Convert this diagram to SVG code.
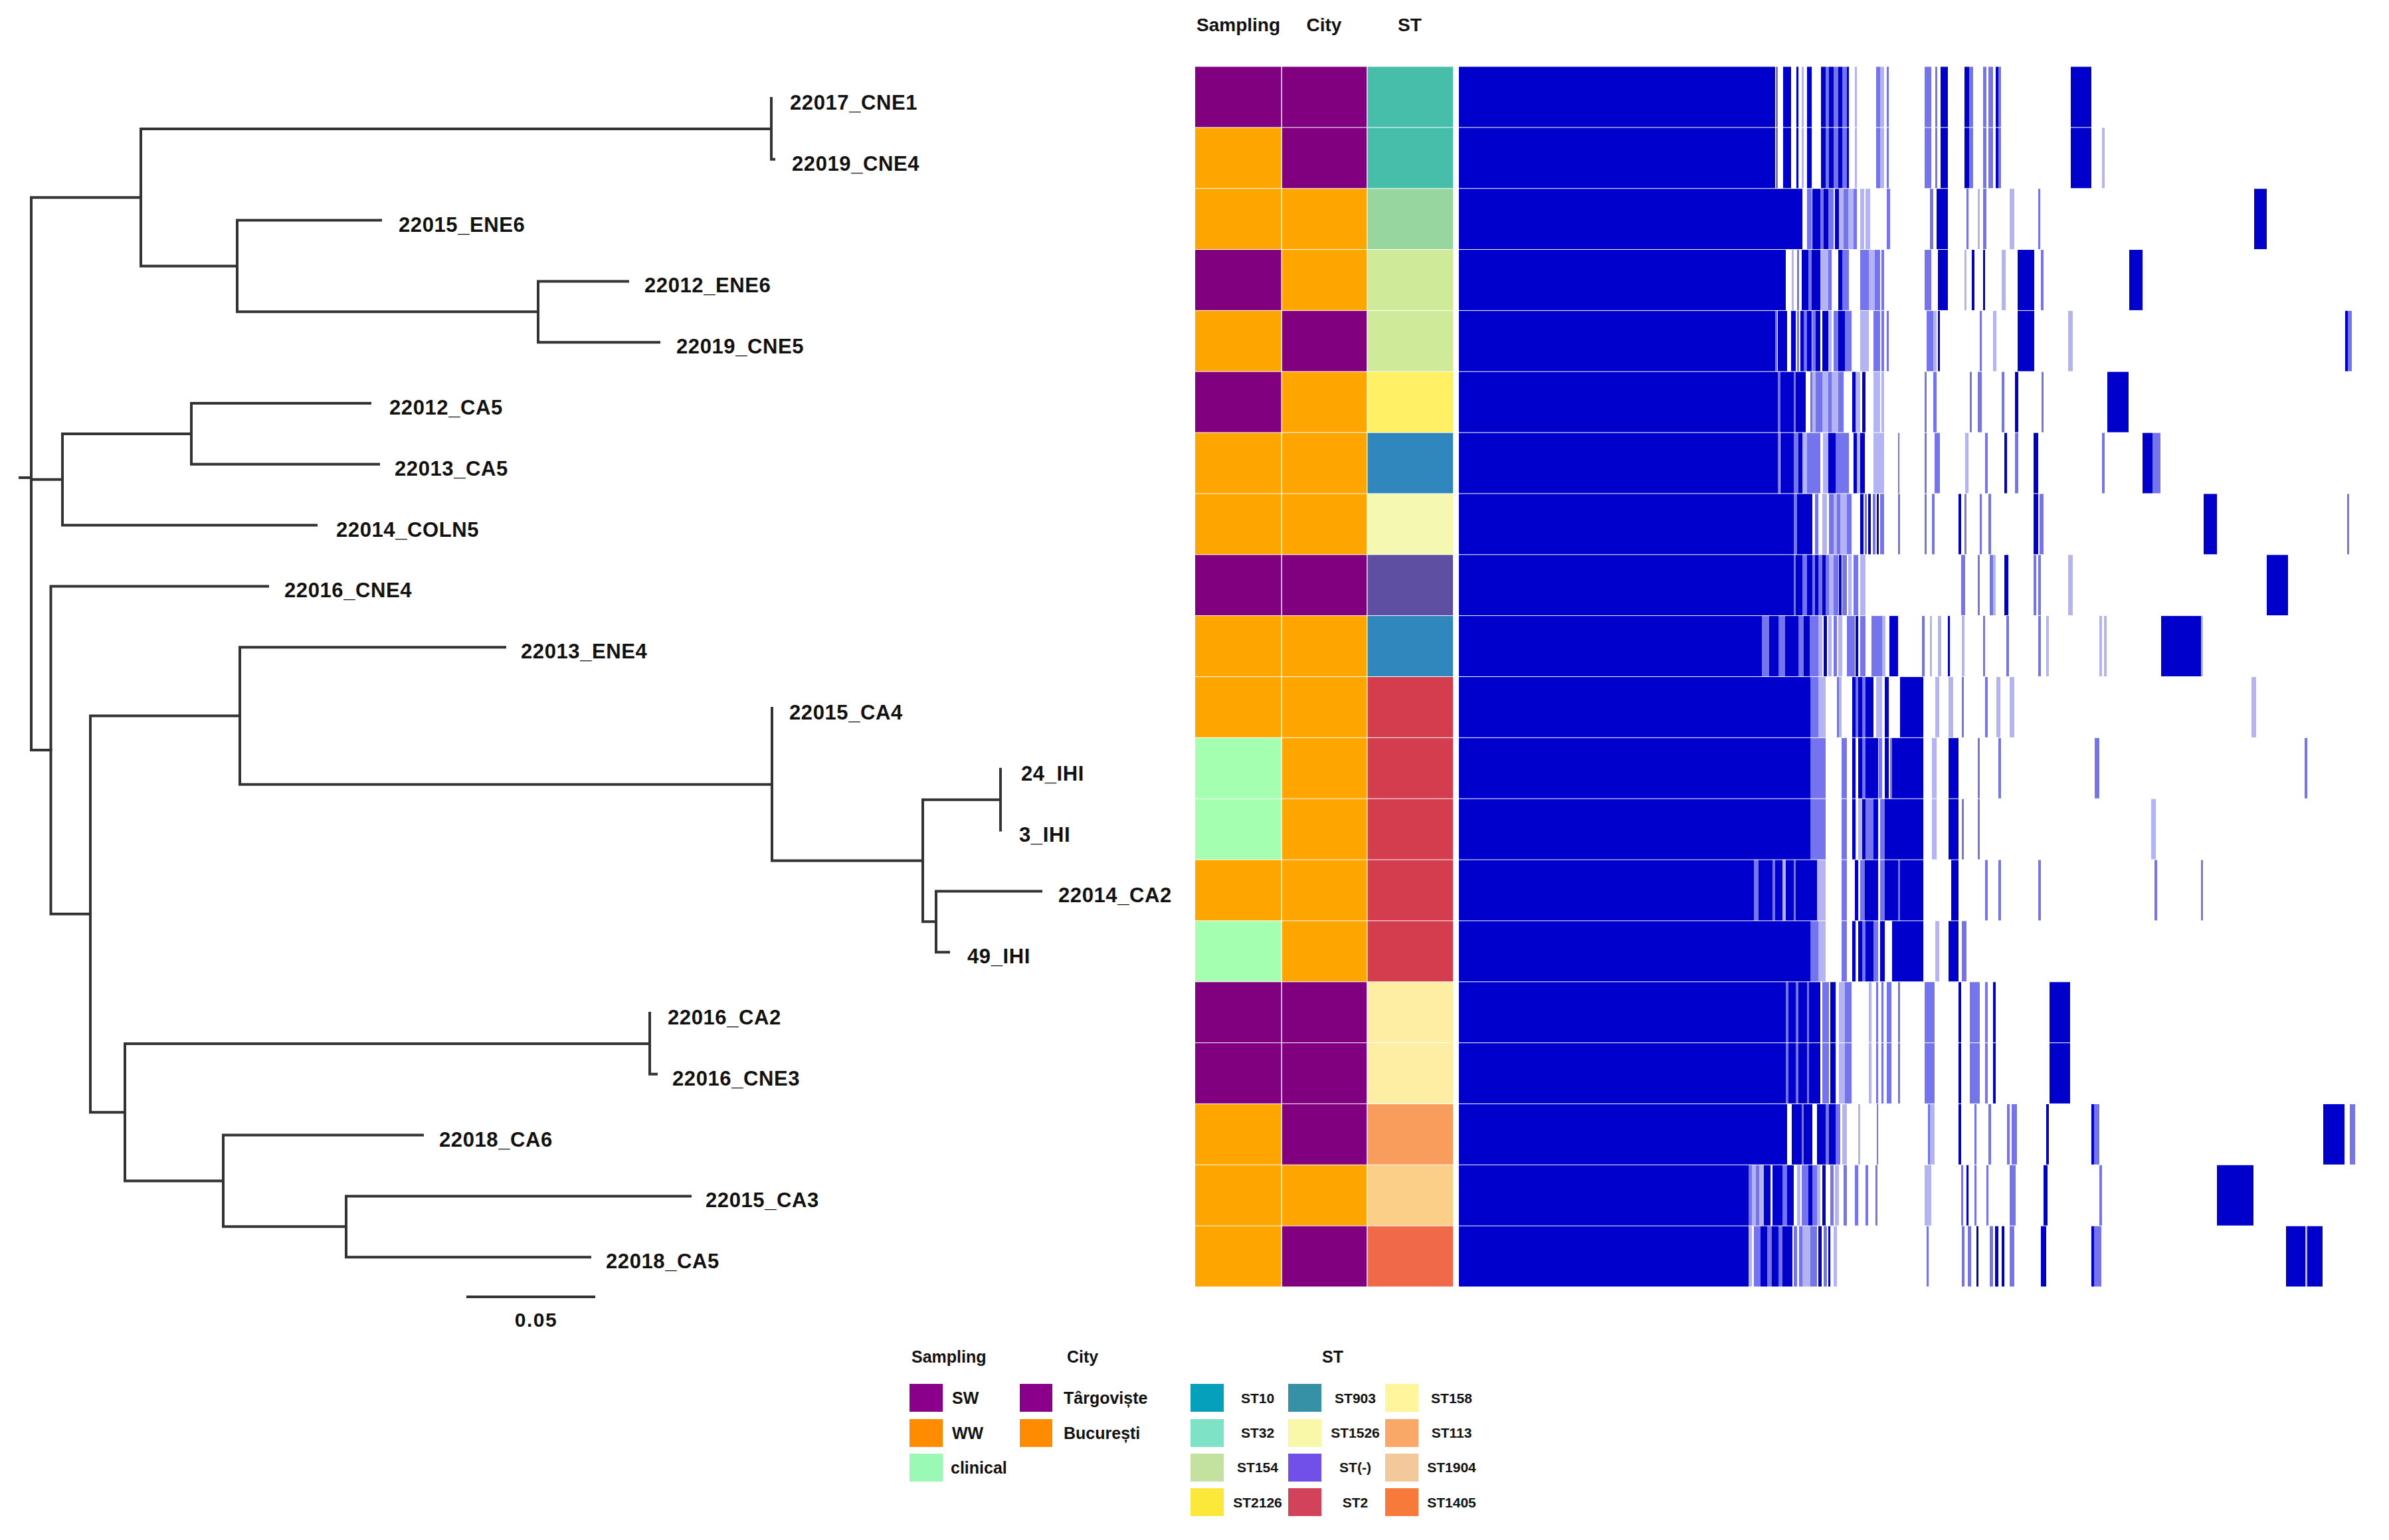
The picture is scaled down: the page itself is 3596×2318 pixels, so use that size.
<svg xmlns="http://www.w3.org/2000/svg" xmlns:xlink="http://www.w3.org/1999/xlink" width="3596" height="2318" viewBox="0 0 3596 2318">
<style>
text{font-family:"Liberation Sans",Arial,sans-serif;font-weight:bold;fill:#111}
.tip{font-size:31px;letter-spacing:0.6px}
.hdr{font-size:28px;text-anchor:middle}
.lt{font-size:25px}
.st{font-size:21px;text-anchor:middle}
.edge{fill:none;stroke:#333;stroke-width:4;stroke-linecap:square}
.d{fill:#0000CD}.m{fill:#7474EE}.l{fill:#B4B4F4}
.pu{fill:#800080}.or{fill:#FFA500}.cl{fill:#A4FFB0}
</style>
<defs>
<g id="r01">
<rect class="d" x="2196" width="476" height="90.85"/><rect class="m" x="2673" width="3" height="90.85"/><rect class="d" x="2684" width="12" height="90.85"/><rect class="d" x="2704" width="3" height="90.85"/><rect class="l" x="2712" width="3" height="90.85"/><rect class="d" x="2720" width="7" height="90.85"/><rect class="d" x="2741" width="7" height="90.85"/><rect class="m" x="2748" width="5" height="90.85"/><rect class="d" x="2753" width="7" height="90.85"/><rect class="m" x="2760" width="7" height="90.85"/><rect class="d" x="2767" width="6" height="90.85"/><rect class="m" x="2773" width="7" height="90.85"/><rect class="d" x="2780" width="3" height="90.85"/><rect class="l" x="2792" width="3" height="90.85"/><rect class="m" x="2824" width="6" height="90.85"/><rect class="l" x="2830" width="6" height="90.85"/><rect class="m" x="2840" width="3" height="90.85"/><rect class="m" x="2897" width="10" height="90.85"/><rect class="m" x="2913" width="3" height="90.85"/><rect class="d" x="2921" width="11" height="90.85"/><rect class="d" x="2957" width="7" height="90.85"/><rect class="m" x="2964" width="6" height="90.85"/><rect class="m" x="2985" width="5" height="90.85"/><rect class="m" x="2993" width="7" height="90.85"/><rect class="d" x="3004" width="4" height="90.85"/><rect class="m" x="3008" width="4" height="90.85"/><rect class="d" x="3117" width="31" height="90.85"/>
</g>
<g id="r2">
<rect class="d" x="2196" width="517" height="90.85"/><rect class="m" x="2720" width="7" height="90.85"/><rect class="d" x="2728" width="12" height="90.85"/><rect class="m" x="2740" width="5" height="90.85"/><rect class="d" x="2745" width="7" height="90.85"/><rect class="m" x="2752" width="8" height="90.85"/><rect class="d" x="2762" width="6" height="90.85"/><rect class="l" x="2768" width="7" height="90.85"/><rect class="m" x="2775" width="7" height="90.85"/><rect class="l" x="2782" width="8" height="90.85"/><rect class="m" x="2790" width="5" height="90.85"/><rect class="l" x="2800" width="6" height="90.85"/><rect class="l" x="2808" width="7" height="90.85"/><rect class="m" x="2840" width="5" height="90.85"/><rect class="m" x="2905" width="5" height="90.85"/><rect class="d" x="2915" width="17" height="90.85"/><rect class="m" x="2960" width="3" height="90.85"/><rect class="l" x="2977" width="3" height="90.85"/><rect class="m" x="2985" width="5" height="90.85"/><rect class="l" x="3025" width="7" height="90.85"/><rect class="m" x="3068" width="3" height="90.85"/><rect class="d" x="3393" width="19" height="90.85"/>
</g>
<g id="r3">
<rect class="d" x="2196" width="492" height="90.85"/><rect class="l" x="2697" width="3" height="90.85"/><rect class="m" x="2705" width="3" height="90.85"/><rect class="d" x="2712" width="10" height="90.85"/><rect class="m" x="2722" width="5" height="90.85"/><rect class="d" x="2727" width="13" height="90.85"/><rect class="l" x="2740" width="12" height="90.85"/><rect class="m" x="2752" width="5" height="90.85"/><rect class="d" x="2767" width="6" height="90.85"/><rect class="m" x="2773" width="10" height="90.85"/><rect class="m" x="2800" width="13" height="90.85"/><rect class="l" x="2813" width="9" height="90.85"/><rect class="m" x="2822" width="8" height="90.85"/><rect class="m" x="2832" width="4" height="90.85"/><rect class="m" x="2897" width="10" height="90.85"/><rect class="d" x="2917" width="15" height="90.85"/><rect class="l" x="2957" width="3" height="90.85"/><rect class="d" x="2968" width="4" height="90.85"/><rect class="d" x="2985" width="3" height="90.85"/><rect class="l" x="3013" width="6" height="90.85"/><rect class="d" x="3037" width="25" height="90.85"/><rect class="m" x="3072" width="4" height="90.85"/><rect class="d" x="3205" width="20" height="90.85"/>
</g>
<g id="r4">
<rect class="d" x="2196" width="476" height="90.85"/><rect class="m" x="2672" width="3" height="90.85"/><rect class="d" x="2676" width="14" height="90.85"/><rect class="d" x="2696" width="7" height="90.85"/><rect class="m" x="2705" width="3" height="90.85"/><rect class="d" x="2710" width="5" height="90.85"/><rect class="m" x="2715" width="5" height="90.85"/><rect class="d" x="2720" width="7" height="90.85"/><rect class="m" x="2728" width="5" height="90.85"/><rect class="d" x="2733" width="7" height="90.85"/><rect class="d" x="2743" width="9" height="90.85"/><rect class="l" x="2752" width="5" height="90.85"/><rect class="m" x="2760" width="7" height="90.85"/><rect class="d" x="2767" width="10" height="90.85"/><rect class="m" x="2777" width="10" height="90.85"/><rect class="l" x="2800" width="13" height="90.85"/><rect class="m" x="2820" width="10" height="90.85"/><rect class="m" x="2832" width="4" height="90.85"/><rect class="m" x="2840" width="3" height="90.85"/><rect class="m" x="2900" width="10" height="90.85"/><rect class="l" x="2910" width="5" height="90.85"/><rect class="d" x="2917" width="3" height="90.85"/><rect class="m" x="2980" width="3" height="90.85"/><rect class="l" x="3000" width="5" height="90.85"/><rect class="d" x="3037" width="25" height="90.85"/><rect class="l" x="3113" width="7" height="90.85"/><rect class="d" x="3530" width="4" height="90.85"/><rect class="m" x="3534" width="6" height="90.85"/>
</g>
<g id="r5">
<rect class="d" x="2196" width="480" height="90.85"/><rect class="m" x="2676" width="4" height="90.85"/><rect class="d" x="2680" width="20" height="90.85"/><rect class="m" x="2700" width="3" height="90.85"/><rect class="d" x="2703" width="15" height="90.85"/><rect class="m" x="2725" width="3" height="90.85"/><rect class="l" x="2728" width="5" height="90.85"/><rect class="m" x="2733" width="10" height="90.85"/><rect class="l" x="2743" width="9" height="90.85"/><rect class="m" x="2752" width="5" height="90.85"/><rect class="l" x="2757" width="10" height="90.85"/><rect class="m" x="2767" width="8" height="90.85"/><rect class="d" x="2788" width="5" height="90.85"/><rect class="l" x="2793" width="7" height="90.85"/><rect class="d" x="2803" width="5" height="90.85"/><rect class="l" x="2820" width="10" height="90.85"/><rect class="l" x="2832" width="4" height="90.85"/><rect class="m" x="2897" width="3" height="90.85"/><rect class="m" x="2910" width="5" height="90.85"/><rect class="m" x="2965" width="3" height="90.85"/><rect class="m" x="2977" width="6" height="90.85"/><rect class="m" x="3013" width="4" height="90.85"/><rect class="d" x="3033" width="5" height="90.85"/><rect class="m" x="3073" width="3" height="90.85"/><rect class="d" x="3172" width="32" height="90.85"/>
</g>
<g id="r6">
<rect class="d" x="2196" width="480" height="90.85"/><rect class="m" x="2676" width="3" height="90.85"/><rect class="d" x="2680" width="20" height="90.85"/><rect class="m" x="2700" width="7" height="90.85"/><rect class="d" x="2707" width="6" height="90.85"/><rect class="l" x="2713" width="7" height="90.85"/><rect class="m" x="2720" width="20" height="90.85"/><rect class="l" x="2744" width="8" height="90.85"/><rect class="d" x="2752" width="11" height="90.85"/><rect class="m" x="2763" width="20" height="90.85"/><rect class="d" x="2790" width="5" height="90.85"/><rect class="l" x="2795" width="5" height="90.85"/><rect class="d" x="2800" width="7" height="90.85"/><rect class="l" x="2820" width="16" height="90.85"/><rect class="m" x="2857" width="2" height="90.85"/><rect class="m" x="2897" width="3" height="90.85"/><rect class="m" x="2912" width="8" height="90.85"/><rect class="l" x="2958" width="5" height="90.85"/><rect class="m" x="2988" width="4" height="90.85"/><rect class="d" x="3017" width="4" height="90.85"/><rect class="m" x="3033" width="5" height="90.85"/><rect class="d" x="3061" width="7" height="90.85"/><rect class="m" x="3164" width="4" height="90.85"/><rect class="d" x="3225" width="15" height="90.85"/><rect class="m" x="3240" width="12" height="90.85"/>
</g>
<g id="r7">
<rect class="d" x="2196" width="504" height="90.85"/><rect class="m" x="2700" width="5" height="90.85"/><rect class="d" x="2705" width="23" height="90.85"/><rect class="m" x="2732" width="5" height="90.85"/><rect class="l" x="2743" width="7" height="90.85"/><rect class="m" x="2753" width="7" height="90.85"/><rect class="l" x="2760" width="5" height="90.85"/><rect class="m" x="2765" width="5" height="90.85"/><rect class="l" x="2770" width="10" height="90.85"/><rect class="m" x="2780" width="7" height="90.85"/><rect class="d" x="2800" width="5" height="90.85"/><rect class="m" x="2807" width="3" height="90.85"/><rect class="d" x="2812" width="4" height="90.85"/><rect class="m" x="2819" width="4" height="90.85"/><rect class="d" x="2825" width="3" height="90.85"/><rect class="m" x="2830" width="6" height="90.85"/><rect class="m" x="2857" width="3" height="90.85"/><rect class="m" x="2897" width="3" height="90.85"/><rect class="m" x="2908" width="4" height="90.85"/><rect class="d" x="2948" width="4" height="90.85"/><rect class="m" x="2957" width="3" height="90.85"/><rect class="m" x="2980" width="3" height="90.85"/><rect class="m" x="2993" width="4" height="90.85"/><rect class="d" x="3061" width="7" height="90.85"/><rect class="m" x="3070" width="6" height="90.85"/><rect class="d" x="3317" width="20" height="90.85"/><rect class="m" x="3533" width="3" height="90.85"/>
</g>
<g id="r8">
<rect class="d" x="2196" width="504" height="90.85"/><rect class="m" x="2700" width="3" height="90.85"/><rect class="d" x="2703" width="10" height="90.85"/><rect class="m" x="2713" width="7" height="90.85"/><rect class="d" x="2720" width="8" height="90.85"/><rect class="m" x="2728" width="4" height="90.85"/><rect class="d" x="2732" width="5" height="90.85"/><rect class="m" x="2737" width="6" height="90.85"/><rect class="d" x="2743" width="5" height="90.85"/><rect class="m" x="2748" width="5" height="90.85"/><rect class="l" x="2753" width="7" height="90.85"/><rect class="m" x="2760" width="7" height="90.85"/><rect class="d" x="2768" width="4" height="90.85"/><rect class="m" x="2773" width="7" height="90.85"/><rect class="l" x="2782" width="5" height="90.85"/><rect class="m" x="2790" width="7" height="90.85"/><rect class="l" x="2800" width="8" height="90.85"/><rect class="m" x="2952" width="6" height="90.85"/><rect class="m" x="2977" width="3" height="90.85"/><rect class="m" x="2995" width="5" height="90.85"/><rect class="l" x="3000" width="4" height="90.85"/><rect class="d" x="3017" width="6" height="90.85"/><rect class="m" x="3061" width="4" height="90.85"/><rect class="m" x="3068" width="4" height="90.85"/><rect class="l" x="3113" width="7" height="90.85"/><rect class="d" x="3412" width="32" height="90.85"/>
</g>
<g id="r9">
<rect class="d" x="2196" width="456" height="90.85"/><rect class="m" x="2652" width="11" height="90.85"/><rect class="d" x="2663" width="14" height="90.85"/><rect class="m" x="2677" width="10" height="90.85"/><rect class="d" x="2687" width="20" height="90.85"/><rect class="m" x="2707" width="8" height="90.85"/><rect class="d" x="2715" width="9" height="90.85"/><rect class="m" x="2724" width="13" height="90.85"/><rect class="l" x="2737" width="6" height="90.85"/><rect class="d" x="2745" width="5" height="90.85"/><rect class="l" x="2752" width="5" height="90.85"/><rect class="m" x="2760" width="5" height="90.85"/><rect class="l" x="2767" width="6" height="90.85"/><rect class="m" x="2780" width="12" height="90.85"/><rect class="d" x="2793" width="4" height="90.85"/><rect class="m" x="2800" width="8" height="90.85"/><rect class="m" x="2817" width="16" height="90.85"/><rect class="l" x="2833" width="5" height="90.85"/><rect class="d" x="2844" width="13" height="90.85"/><rect class="m" x="2893" width="4" height="90.85"/><rect class="l" x="2905" width="3" height="90.85"/><rect class="l" x="2917" width="5" height="90.85"/><rect class="d" x="2932" width="3" height="90.85"/><rect class="l" x="2953" width="4" height="90.85"/><rect class="m" x="2985" width="3" height="90.85"/><rect class="m" x="3020" width="4" height="90.85"/><rect class="m" x="3068" width="4" height="90.85"/><rect class="l" x="3080" width="4" height="90.85"/><rect class="l" x="3160" width="4" height="90.85"/><rect class="l" x="3167" width="4" height="90.85"/><rect class="d" x="3253" width="60" height="90.85"/><rect class="l" x="3313" width="3" height="90.85"/>
</g>
<g id="r10">
<rect class="d" x="2196" width="529" height="90.85"/><rect class="m" x="2725" width="12" height="90.85"/><rect class="l" x="2737" width="11" height="90.85"/><rect class="m" x="2765" width="3" height="90.85"/><rect class="l" x="2768" width="4" height="90.85"/><rect class="d" x="2788" width="5" height="90.85"/><rect class="m" x="2793" width="4" height="90.85"/><rect class="d" x="2797" width="6" height="90.85"/><rect class="m" x="2803" width="5" height="90.85"/><rect class="d" x="2808" width="12" height="90.85"/><rect class="l" x="2824" width="9" height="90.85"/><rect class="d" x="2837" width="6" height="90.85"/><rect class="d" x="2860" width="35" height="90.85"/><rect class="l" x="2913" width="6" height="90.85"/><rect class="l" x="2933" width="7" height="90.85"/><rect class="m" x="2953" width="3" height="90.85"/><rect class="m" x="2988" width="4" height="90.85"/><rect class="l" x="3005" width="6" height="90.85"/><rect class="l" x="3025" width="7" height="90.85"/><rect class="l" x="3389" width="7" height="90.85"/>
</g>
<g id="r11">
<rect class="d" x="2196" width="529" height="90.85"/><rect class="m" x="2725" width="23" height="90.85"/><rect class="m" x="2772" width="8" height="90.85"/><rect class="d" x="2788" width="5" height="90.85"/><rect class="d" x="2797" width="6" height="90.85"/><rect class="m" x="2803" width="5" height="90.85"/><rect class="d" x="2808" width="19" height="90.85"/><rect class="m" x="2828" width="5" height="90.85"/><rect class="d" x="2837" width="6" height="90.85"/><rect class="m" x="2845" width="3" height="90.85"/><rect class="d" x="2848" width="47" height="90.85"/><rect class="l" x="2908" width="7" height="90.85"/><rect class="d" x="2933" width="15" height="90.85"/><rect class="m" x="2977" width="3" height="90.85"/><rect class="m" x="3008" width="4" height="90.85"/><rect class="m" x="3153" width="7" height="90.85"/><rect class="m" x="3469" width="4" height="90.85"/>
</g>
<g id="r12">
<rect class="d" x="2196" width="529" height="90.85"/><rect class="m" x="2725" width="23" height="90.85"/><rect class="m" x="2772" width="8" height="90.85"/><rect class="d" x="2788" width="5" height="90.85"/><rect class="l" x="2797" width="6" height="90.85"/><rect class="d" x="2803" width="5" height="90.85"/><rect class="m" x="2808" width="12" height="90.85"/><rect class="d" x="2820" width="7" height="90.85"/><rect class="m" x="2830" width="7" height="90.85"/><rect class="d" x="2837" width="58" height="90.85"/><rect class="l" x="2908" width="7" height="90.85"/><rect class="d" x="2933" width="15" height="90.85"/><rect class="m" x="2953" width="3" height="90.85"/><rect class="m" x="2977" width="3" height="90.85"/><rect class="l" x="3238" width="7" height="90.85"/>
</g>
<g id="r13">
<rect class="d" x="2196" width="444" height="90.85"/><rect class="m" x="2640" width="7" height="90.85"/><rect class="d" x="2647" width="21" height="90.85"/><rect class="m" x="2668" width="4" height="90.85"/><rect class="d" x="2672" width="11" height="90.85"/><rect class="l" x="2683" width="5" height="90.85"/><rect class="d" x="2688" width="12" height="90.85"/><rect class="m" x="2700" width="3" height="90.85"/><rect class="d" x="2703" width="32" height="90.85"/><rect class="l" x="2735" width="13" height="90.85"/><rect class="m" x="2772" width="8" height="90.85"/><rect class="d" x="2792" width="5" height="90.85"/><rect class="m" x="2800" width="7" height="90.85"/><rect class="d" x="2807" width="20" height="90.85"/><rect class="m" x="2830" width="7" height="90.85"/><rect class="d" x="2837" width="20" height="90.85"/><rect class="m" x="2857" width="3" height="90.85"/><rect class="d" x="2860" width="35" height="90.85"/><rect class="d" x="2937" width="11" height="90.85"/><rect class="m" x="2988" width="4" height="90.85"/><rect class="m" x="3008" width="4" height="90.85"/><rect class="m" x="3068" width="4" height="90.85"/><rect class="m" x="3243" width="4" height="90.85"/><rect class="m" x="3313" width="3" height="90.85"/>
</g>
<g id="r14">
<rect class="d" x="2196" width="529" height="90.85"/><rect class="m" x="2725" width="12" height="90.85"/><rect class="l" x="2737" width="11" height="90.85"/><rect class="m" x="2772" width="8" height="90.85"/><rect class="d" x="2788" width="5" height="90.85"/><rect class="d" x="2797" width="6" height="90.85"/><rect class="m" x="2803" width="5" height="90.85"/><rect class="d" x="2808" width="12" height="90.85"/><rect class="m" x="2820" width="7" height="90.85"/><rect class="d" x="2830" width="7" height="90.85"/><rect class="d" x="2848" width="47" height="90.85"/><rect class="l" x="2913" width="6" height="90.85"/><rect class="d" x="2933" width="15" height="90.85"/><rect class="m" x="2953" width="7" height="90.85"/>
</g>
<g id="r1516">
<rect class="d" x="2196" width="492" height="90.85"/><rect class="m" x="2688" width="4" height="90.85"/><rect class="d" x="2692" width="11" height="90.85"/><rect class="m" x="2703" width="4" height="90.85"/><rect class="d" x="2707" width="13" height="90.85"/><rect class="m" x="2720" width="3" height="90.85"/><rect class="d" x="2723" width="17" height="90.85"/><rect class="m" x="2743" width="10" height="90.85"/><rect class="d" x="2755" width="8" height="90.85"/><rect class="l" x="2768" width="9" height="90.85"/><rect class="m" x="2777" width="10" height="90.85"/><rect class="l" x="2813" width="4" height="90.85"/><rect class="m" x="2824" width="3" height="90.85"/><rect class="m" x="2832" width="3" height="90.85"/><rect class="m" x="2840" width="7" height="90.85"/><rect class="m" x="2857" width="3" height="90.85"/><rect class="m" x="2897" width="15" height="90.85"/><rect class="d" x="2948" width="4" height="90.85"/><rect class="m" x="2965" width="15" height="90.85"/><rect class="m" x="2988" width="4" height="90.85"/><rect class="d" x="3000" width="4" height="90.85"/><rect class="d" x="3085" width="31" height="90.85"/>
</g>
<g id="r17">
<rect class="d" x="2196" width="494" height="90.85"/><rect class="d" x="2697" width="15" height="90.85"/><rect class="m" x="2712" width="3" height="90.85"/><rect class="d" x="2715" width="13" height="90.85"/><rect class="d" x="2735" width="13" height="90.85"/><rect class="m" x="2748" width="5" height="90.85"/><rect class="d" x="2753" width="10" height="90.85"/><rect class="m" x="2763" width="7" height="90.85"/><rect class="l" x="2773" width="7" height="90.85"/><rect class="l" x="2797" width="3" height="90.85"/><rect class="m" x="2825" width="2" height="90.85"/><rect class="m" x="2902" width="3" height="90.85"/><rect class="l" x="2905" width="7" height="90.85"/><rect class="d" x="2948" width="4" height="90.85"/><rect class="m" x="2972" width="3" height="90.85"/><rect class="m" x="2993" width="4" height="90.85"/><rect class="m" x="3021" width="4" height="90.85"/><rect class="m" x="3028" width="8" height="90.85"/><rect class="d" x="3080" width="4" height="90.85"/><rect class="d" x="3148" width="4" height="90.85"/><rect class="m" x="3152" width="8" height="90.85"/><rect class="d" x="3497" width="32" height="90.85"/><rect class="m" x="3537" width="8" height="90.85"/>
</g>
<g id="r18">
<rect class="d" x="2196" width="436" height="90.85"/><rect class="m" x="2632" width="5" height="90.85"/><rect class="l" x="2637" width="6" height="90.85"/><rect class="m" x="2643" width="5" height="90.85"/><rect class="l" x="2648" width="7" height="90.85"/><rect class="d" x="2655" width="10" height="90.85"/><rect class="d" x="2668" width="15" height="90.85"/><rect class="m" x="2683" width="7" height="90.85"/><rect class="d" x="2690" width="10" height="90.85"/><rect class="l" x="2705" width="5" height="90.85"/><rect class="m" x="2712" width="10" height="90.85"/><rect class="d" x="2722" width="6" height="90.85"/><rect class="m" x="2728" width="7" height="90.85"/><rect class="l" x="2735" width="5" height="90.85"/><rect class="d" x="2743" width="5" height="90.85"/><rect class="m" x="2755" width="5" height="90.85"/><rect class="l" x="2762" width="6" height="90.85"/><rect class="m" x="2775" width="5" height="90.85"/><rect class="m" x="2792" width="5" height="90.85"/><rect class="m" x="2808" width="4" height="90.85"/><rect class="m" x="2823" width="3" height="90.85"/><rect class="l" x="2897" width="10" height="90.85"/><rect class="m" x="2952" width="3" height="90.85"/><rect class="d" x="2960" width="3" height="90.85"/><rect class="m" x="2972" width="3" height="90.85"/><rect class="m" x="2990" width="3" height="90.85"/><rect class="m" x="3025" width="9" height="90.85"/><rect class="d" x="3076" width="6" height="90.85"/><rect class="m" x="3160" width="4" height="90.85"/><rect class="d" x="3337" width="55" height="90.85"/>
</g>
<g id="r19">
<rect class="d" x="2196" width="436" height="90.85"/><rect class="l" x="2632" width="5" height="90.85"/><rect class="m" x="2640" width="10" height="90.85"/><rect class="d" x="2650" width="10" height="90.85"/><rect class="m" x="2660" width="7" height="90.85"/><rect class="d" x="2667" width="10" height="90.85"/><rect class="m" x="2677" width="6" height="90.85"/><rect class="d" x="2683" width="15" height="90.85"/><rect class="m" x="2700" width="5" height="90.85"/><rect class="m" x="2708" width="5" height="90.85"/><rect class="l" x="2713" width="12" height="90.85"/><rect class="m" x="2725" width="10" height="90.85"/><rect class="d" x="2737" width="5" height="90.85"/><rect class="m" x="2745" width="5" height="90.85"/><rect class="d" x="2752" width="3" height="90.85"/><rect class="l" x="2760" width="5" height="90.85"/><rect class="m" x="2900" width="3" height="90.85"/><rect class="m" x="2953" width="4" height="90.85"/><rect class="m" x="2962" width="5" height="90.85"/><rect class="d" x="2975" width="3" height="90.85"/><rect class="m" x="2995" width="5" height="90.85"/><rect class="d" x="3003" width="5" height="90.85"/><rect class="d" x="3013" width="4" height="90.85"/><rect class="m" x="3025" width="7" height="90.85"/><rect class="d" x="3072" width="8" height="90.85"/><rect class="d" x="3148" width="4" height="90.85"/><rect class="m" x="3152" width="11" height="90.85"/><rect class="d" x="3441" width="29" height="90.85"/><rect class="l" x="3470" width="3" height="90.85"/><rect class="d" x="3473" width="23" height="90.85"/>
</g>
</defs>
<rect width="3596" height="2318" fill="#fff"/>

<g id="heatmap">
<use xlink:href="#r01" y="100.5"/>
<use xlink:href="#r01" y="192.35"/>
<rect class="l" x="3164" y="192.35" width="4" height="90.85"/>
<use xlink:href="#r2" y="284.2"/>
<use xlink:href="#r3" y="376.05"/>
<use xlink:href="#r4" y="467.9"/>
<use xlink:href="#r5" y="559.75"/>
<use xlink:href="#r6" y="651.6"/>
<use xlink:href="#r7" y="743.45"/>
<use xlink:href="#r8" y="835.3"/>
<use xlink:href="#r9" y="927.15"/>
<use xlink:href="#r10" y="1019"/>
<use xlink:href="#r11" y="1110.85"/>
<use xlink:href="#r12" y="1202.7"/>
<use xlink:href="#r13" y="1294.55"/>
<use xlink:href="#r14" y="1386.4"/>
<use xlink:href="#r1516" y="1478.25"/>
<use xlink:href="#r1516" y="1570.1"/>
<use xlink:href="#r17" y="1661.95"/>
<use xlink:href="#r18" y="1753.8"/>
<use xlink:href="#r19" y="1845.65"/>
</g>

<g id="annotation-sampling">
<rect class="pu" x="1799" y="100.5" width="129.5" height="90.85"/>
<rect class="or" x="1799" y="192.35" width="129.5" height="90.85"/>
<rect class="or" x="1799" y="284.2" width="129.5" height="90.85"/>
<rect class="pu" x="1799" y="376.05" width="129.5" height="90.85"/>
<rect class="or" x="1799" y="467.9" width="129.5" height="90.85"/>
<rect class="pu" x="1799" y="559.75" width="129.5" height="90.85"/>
<rect class="or" x="1799" y="651.6" width="129.5" height="90.85"/>
<rect class="or" x="1799" y="743.45" width="129.5" height="90.85"/>
<rect class="pu" x="1799" y="835.3" width="129.5" height="90.85"/>
<rect class="or" x="1799" y="927.15" width="129.5" height="90.85"/>
<rect class="or" x="1799" y="1019" width="129.5" height="90.85"/>
<rect class="cl" x="1799" y="1110.85" width="129.5" height="90.85"/>
<rect class="cl" x="1799" y="1202.7" width="129.5" height="90.85"/>
<rect class="or" x="1799" y="1294.55" width="129.5" height="90.85"/>
<rect class="cl" x="1799" y="1386.4" width="129.5" height="90.85"/>
<rect class="pu" x="1799" y="1478.25" width="129.5" height="90.85"/>
<rect class="pu" x="1799" y="1570.1" width="129.5" height="90.85"/>
<rect class="or" x="1799" y="1661.95" width="129.5" height="90.85"/>
<rect class="or" x="1799" y="1753.8" width="129.5" height="90.85"/>
<rect class="or" x="1799" y="1845.65" width="129.5" height="90.85"/>
</g>
<g id="annotation-city">
<rect class="pu" x="1930" y="100.5" width="127" height="90.85"/>
<rect class="pu" x="1930" y="192.35" width="127" height="90.85"/>
<rect class="or" x="1930" y="284.2" width="127" height="90.85"/>
<rect class="or" x="1930" y="376.05" width="127" height="90.85"/>
<rect class="pu" x="1930" y="467.9" width="127" height="90.85"/>
<rect class="or" x="1930" y="559.75" width="127" height="90.85"/>
<rect class="or" x="1930" y="651.6" width="127" height="90.85"/>
<rect class="or" x="1930" y="743.45" width="127" height="90.85"/>
<rect class="pu" x="1930" y="835.3" width="127" height="90.85"/>
<rect class="or" x="1930" y="927.15" width="127" height="90.85"/>
<rect class="or" x="1930" y="1019" width="127" height="90.85"/>
<rect class="or" x="1930" y="1110.85" width="127" height="90.85"/>
<rect class="or" x="1930" y="1202.7" width="127" height="90.85"/>
<rect class="or" x="1930" y="1294.55" width="127" height="90.85"/>
<rect class="or" x="1930" y="1386.4" width="127" height="90.85"/>
<rect class="pu" x="1930" y="1478.25" width="127" height="90.85"/>
<rect class="pu" x="1930" y="1570.1" width="127" height="90.85"/>
<rect class="pu" x="1930" y="1661.95" width="127" height="90.85"/>
<rect class="or" x="1930" y="1753.8" width="127" height="90.85"/>
<rect class="pu" x="1930" y="1845.65" width="127" height="90.85"/>
</g>
<g id="annotation-st">
<rect fill="#47BEAA" x="2058.5" y="100.5" width="128.5" height="90.85"/>
<rect fill="#47BEAA" x="2058.5" y="192.35" width="128.5" height="90.85"/>
<rect fill="#98D6A0" x="2058.5" y="284.2" width="128.5" height="90.85"/>
<rect fill="#CFEA98" x="2058.5" y="376.05" width="128.5" height="90.85"/>
<rect fill="#CFEA98" x="2058.5" y="467.9" width="128.5" height="90.85"/>
<rect fill="#FFF066" x="2058.5" y="559.75" width="128.5" height="90.85"/>
<rect fill="#2F87BE" x="2058.5" y="651.6" width="128.5" height="90.85"/>
<rect fill="#F4F8B0" x="2058.5" y="743.45" width="128.5" height="90.85"/>
<rect fill="#5E4FA2" x="2058.5" y="835.3" width="128.5" height="90.85"/>
<rect fill="#2F87BE" x="2058.5" y="927.15" width="128.5" height="90.85"/>
<rect fill="#D33D4E" x="2058.5" y="1019" width="128.5" height="90.85"/>
<rect fill="#D33D4E" x="2058.5" y="1110.85" width="128.5" height="90.85"/>
<rect fill="#D33D4E" x="2058.5" y="1202.7" width="128.5" height="90.85"/>
<rect fill="#D33D4E" x="2058.5" y="1294.55" width="128.5" height="90.85"/>
<rect fill="#D33D4E" x="2058.5" y="1386.4" width="128.5" height="90.85"/>
<rect fill="#FDEEA4" x="2058.5" y="1478.25" width="128.5" height="90.85"/>
<rect fill="#FDEEA4" x="2058.5" y="1570.1" width="128.5" height="90.85"/>
<rect fill="#F89D5C" x="2058.5" y="1661.95" width="128.5" height="90.85"/>
<rect fill="#FCCF88" x="2058.5" y="1753.8" width="128.5" height="90.85"/>
<rect fill="#F06A4A" x="2058.5" y="1845.65" width="128.5" height="90.85"/>
</g>
<g id="column-headers">
<text class="hdr" x="1864" y="47">Sampling</text>
<text class="hdr" x="1993" y="47">City</text>
<text class="hdr" x="2122" y="47">ST</text>
</g>

<g id="connectors">
<path class="edge" d="M30,719H47M47,297.2V1129.1M47,297.2H212M47,721.75H94M47,1129.1H76.5"/>
<path class="edge" d="M212,193.9V400.45M212,193.9H1161M212,400.45H357M1161,148V239.8H1165"/>
<path class="edge" d="M357,331.6V469.3M357,331.6H573M357,469.3H810M810,423.4V515.2M810,423.4H945M810,515.2H992"/>
<path class="edge" d="M94,652.9V790.6M94,652.9H288M94,790.6H476M288,607V698.8M288,607H557M288,698.8H570"/>
<path class="edge" d="M76.5,882.4V1375.85M76.5,882.4H403M76.5,1375.85H136M136,1077.5V1674.2M136,1077.5H361M136,1674.2H188"/>
<path class="edge" d="M361,974.2V1180.75M361,974.2H760M361,1180.75H1162M1162,1066V1295.5M1162,1295.5H1389M1389,1203.7V1387.3M1389,1203.7H1506M1389,1387.3H1409"/>
<path class="edge" d="M1506,1157.8V1249.6M1409,1341.4V1433.2M1409,1341.4H1567M1409,1433.2H1428"/>
<path class="edge" d="M188,1570.9V1777.45M188,1570.9H978M188,1777.45H336M978,1525V1616.8H988M336,1708.6V1846.3M336,1708.6H636M336,1846.3H521M521,1800.4V1892.2M521,1800.4H1039M521,1892.2H888"/>
</g>

<g id="tip-22017_CNE1"><text class="tip" x="1189" y="165">22017_CNE1</text></g>
<g id="tip-22019_CNE4"><text class="tip" x="1192" y="257">22019_CNE4</text></g>
<g id="tip-22015_ENE6"><text class="tip" x="600" y="349">22015_ENE6</text></g>
<g id="tip-22012_ENE6"><text class="tip" x="970" y="440">22012_ENE6</text></g>
<g id="tip-22019_CNE5"><text class="tip" x="1018" y="532">22019_CNE5</text></g>
<g id="tip-22012_CA5"><text class="tip" x="586" y="624">22012_CA5</text></g>
<g id="tip-22013_CA5"><text class="tip" x="594" y="716">22013_CA5</text></g>
<g id="tip-22014_COLN5"><text class="tip" x="506" y="808">22014_COLN5</text></g>
<g id="tip-22016_CNE4"><text class="tip" x="428" y="899">22016_CNE4</text></g>
<g id="tip-22013_ENE4"><text class="tip" x="784" y="991">22013_ENE4</text></g>
<g id="tip-22015_CA4"><text class="tip" x="1188" y="1083">22015_CA4</text></g>
<g id="tip-24_IHI"><text class="tip" x="1537" y="1175">24_IHI</text></g>
<g id="tip-3_IHI"><text class="tip" x="1534" y="1267">3_IHI</text></g>
<g id="tip-22014_CA2"><text class="tip" x="1593" y="1358">22014_CA2</text></g>
<g id="tip-49_IHI"><text class="tip" x="1456" y="1450">49_IHI</text></g>
<g id="tip-22016_CA2"><text class="tip" x="1005" y="1542">22016_CA2</text></g>
<g id="tip-22016_CNE3"><text class="tip" x="1012" y="1634">22016_CNE3</text></g>
<g id="tip-22018_CA6"><text class="tip" x="661" y="1726">22018_CA6</text></g>
<g id="tip-22015_CA3"><text class="tip" x="1062" y="1817">22015_CA3</text></g>
<g id="tip-22018_CA5"><text class="tip" x="912" y="1909">22018_CA5</text></g>

<g id="scale-bar">
<path class="edge" d="M704,1952H894"/>
<text x="807" y="1997" font-size="30" text-anchor="middle" letter-spacing="1.5">0.05</text>
</g>

<g id="legend-sampling">
<text class="lt" x="1372" y="2051">Sampling</text>
<rect x="1369" y="2083" width="50" height="42" fill="#8B008B"/>
<rect x="1369" y="2136" width="50" height="42" fill="#FF8C00"/>
<rect x="1369" y="2188" width="50" height="42" fill="#9AFAB5"/>
<text class="lt" x="1433" y="2113">SW</text>
<text class="lt" x="1433" y="2166">WW</text>
<text class="lt" x="1431" y="2218">clinical</text>
</g>
<g id="legend-city">
<text class="lt" x="1606" y="2051">City</text>
<rect x="1535" y="2083" width="49" height="42" fill="#8B008B"/>
<rect x="1535" y="2136" width="49" height="42" fill="#FF8C00"/>
<text class="lt" x="1601" y="2113">Târgoviște</text>
<text class="lt" x="1601" y="2166">București</text>
</g>
<g id="legend-st">
<text class="lt" x="2006" y="2051" text-anchor="middle">ST</text>
<rect x="1792" y="2083" width="50" height="42" fill="#05A0BC"/>
<rect x="1792" y="2136" width="50" height="42" fill="#7EE3C6"/>
<rect x="1792" y="2188" width="50" height="42" fill="#C3E2A0"/>
<rect x="1792" y="2240" width="50" height="42" fill="#FCE838"/>
<rect x="1939" y="2083" width="50" height="42" fill="#3690A6"/>
<rect x="1939" y="2136" width="50" height="42" fill="#F8F8A8"/>
<rect x="1939" y="2188" width="50" height="42" fill="#7050E8"/>
<rect x="1939" y="2240" width="50" height="42" fill="#D2425A"/>
<rect x="2085" y="2083" width="50" height="42" fill="#FFF59D"/>
<rect x="2085" y="2136" width="50" height="42" fill="#F9A868"/>
<rect x="2085" y="2188" width="50" height="42" fill="#F3C89A"/>
<rect x="2085" y="2240" width="50" height="42" fill="#F87A3A"/>
<text class="st" x="1893" y="2112">ST10</text>
<text class="st" x="1893" y="2164">ST32</text>
<text class="st" x="1893" y="2216">ST154</text>
<text class="st" x="1893" y="2269">ST2126</text>
<text class="st" x="2040" y="2112">ST903</text>
<text class="st" x="2040" y="2164">ST1526</text>
<text class="st" x="2040" y="2216">ST(-)</text>
<text class="st" x="2040" y="2269">ST2</text>
<text class="st" x="2185" y="2112">ST158</text>
<text class="st" x="2185" y="2164">ST113</text>
<text class="st" x="2185" y="2216">ST1904</text>
<text class="st" x="2185" y="2269">ST1405</text>
</g>
</svg>
